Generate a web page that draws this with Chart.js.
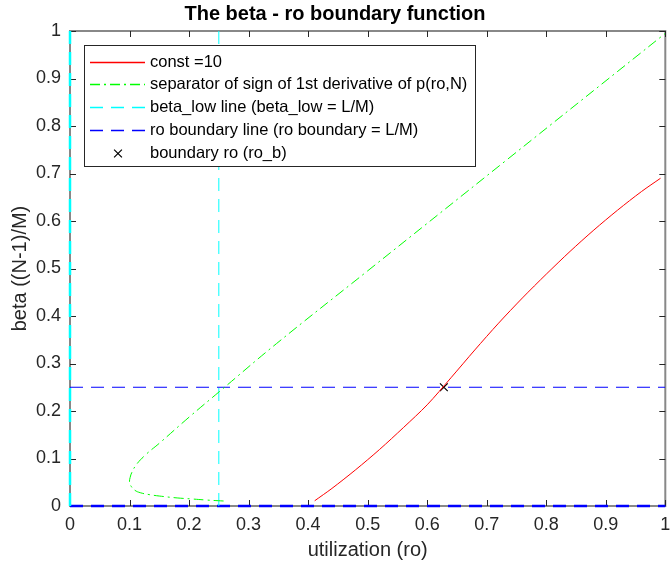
<!DOCTYPE html>
<html>
<head>
<meta charset="utf-8">
<script src="https://cdn.jsdelivr.net/npm/chart.js@4.4.1/dist/chart.umd.min.js"></script>
<style>
html,body{margin:0;padding:0;background:#fff;}
#wrap{width:672px;height:567px;position:relative;}
</style>
</head>
<body>
<div id="wrap"><canvas id="c" width="672" height="567"></canvas></div>
<script>
// ---------- data ----------
const titleText = 'The beta - ro boundary function';
const xLabel = 'utilization (ro)';
const yLabel = 'beta ((N-1)/M)';
const tickValues = [0,0.1,0.2,0.3,0.4,0.5,0.6,0.7,0.8,0.9,1];
const tickLabels = ['0','0.1','0.2','0.3','0.4','0.5','0.6','0.7','0.8','0.9','1'];
const seriesNames = [
  'const =10',
  'separator of sign of 1st derivative of p(ro,N)',
  'beta_low line (beta_low = L/M)',
  'ro boundary line (ro boundary = L/M)',
  'boundary ro (ro_b)'
];
const constX = [0.411,0.44,0.48,0.52,0.56,0.60,0.64,0.68,0.72,0.76,0.80,0.84,0.88,0.92,0.96,0.992];
const constY = [0.011,0.037,0.0765,0.119,0.165,0.213,0.270,0.3285,0.385,0.438,0.488,0.536,0.581,0.623,0.662,0.690];
const sepX = [0.258,0.23,0.206,0.18,0.15,0.133,0.118,0.109,0.103,0.100,0.101,0.104,0.112,0.128,0.15,0.20,0.253,0.347,0.50,0.733,1.0];
const sepY = [0.0105,0.0125,0.0147,0.017,0.021,0.024,0.028,0.033,0.041,0.050,0.060,0.071,0.088,0.109,0.132,0.187,0.243,0.342,0.495,0.728,0.995];
const betaLowX = [0.25,0.25];
const betaLowY = [0,1];
const betaLowEdgeX = [0,0];
const betaLowEdgeY = [0,1];
const roBoundX = [0,1];
const roBoundY = [0.25,0.25];
const roBoundEdgeX = [0,1];
const roBoundEdgeY = [0,0];
const roBX = [0.628];
const roBY = [0.25];

const FONT = '"Liberation Sans", Arial, Helvetica, sans-serif';
const pts = (xs, ys) => xs.map((x, i) => ({x: x, y: ys[i]}));
const lineDs = (label, xs, ys, color, dash, width, tension) => ({
  label: label, data: pts(xs, ys), showLine: true, borderColor: color, backgroundColor: color,
  borderWidth: width, borderDash: dash, pointRadius: 0, pointHoverRadius: 0, fill: false, tension: tension || 0
});

const datasets = [
  lineDs(seriesNames[0], constX, constY, '#ff0000', [], 1, 0.3),
  lineDs(seriesNames[1], sepX, sepY, '#00ff00', [10,4,2,4], 1, 0.4),
  lineDs(seriesNames[2], betaLowX, betaLowY, '#00ffff', [13,8], 1),
  lineDs(seriesNames[3], roBoundX, roBoundY, '#0000ff', [13,8], 1),
  {label: seriesNames[4], data: pts(roBX, roBY), showLine: false, pointStyle: 'crossRot',
   pointRadius: 5.5, pointBorderWidth: 1.2, borderColor: '#000000', backgroundColor: '#000000', borderWidth: 1.2},
  Object.assign(lineDs('', betaLowEdgeX, betaLowEdgeY, '#00ffff', [13,8], 2.5), {clip: false}),
  Object.assign(lineDs('', roBoundEdgeX, roBoundEdgeY, '#0000ff', [13,8], 2.5), {clip: false})
];

// frame + inward ticks (MATLAB style box)
const framePlugin = {
  id: 'frame',
  beforeDatasetsDraw(chart) {
    const {ctx, chartArea: a, scales: {x, y}} = chart;
    ctx.save();
    ctx.strokeStyle = '#262626';
    ctx.lineWidth = 1;
    ctx.beginPath();
    tickValues.forEach(v => {
      const px = Math.round(x.getPixelForValue(v)) + 0.5;
      ctx.moveTo(px, a.bottom); ctx.lineTo(px, a.bottom - 6);
      ctx.moveTo(px, a.top); ctx.lineTo(px, a.top + 6);
      const py = Math.round(y.getPixelForValue(v)) + 0.5;
      ctx.moveTo(a.left, py); ctx.lineTo(a.left + 6, py);
      ctx.moveTo(a.right, py); ctx.lineTo(a.right - 6, py);
    });
    ctx.stroke();
    ctx.strokeStyle = 'rgba(38,38,38,0.55)';
    ctx.lineWidth = 2;
    ctx.strokeRect(a.left, a.top, a.right - a.left, a.bottom - a.top);
    ctx.restore();
  }
};

// legend box in the upper-left corner of the axes
const legendPlugin = {
  id: 'boxLegend',
  afterDatasetsDraw(chart) {
    const {ctx, chartArea: a} = chart;
    const L = a.left + 14, T = a.top + 14, W = 391, H = 121;
    ctx.save();
    ctx.fillStyle = '#ffffff';
    ctx.fillRect(L, T, W, H);
    ctx.strokeStyle = '#262626';
    ctx.lineWidth = 1;
    ctx.strokeRect(L + 0.5, T + 0.5, W, H);
    ctx.font = '16.5px ' + FONT;
    ctx.textBaseline = 'middle';
    ctx.textAlign = 'left';
    for (let i = 0; i < 5; i++) {
      const ds = chart.data.datasets[i];
      const cy = Math.round(T + 16.5 + i * 22.75) + 0.5;
      if (ds.showLine) {
        ctx.strokeStyle = ds.borderColor;
        ctx.lineWidth = 1.4;
        ctx.setLineDash(ds.borderDash || []);
        ctx.beginPath();
        ctx.moveTo(L + 6, cy); ctx.lineTo(L + 61, cy);
        ctx.stroke();
        ctx.setLineDash([]);
      } else {
        ctx.strokeStyle = '#000';
        ctx.lineWidth = 1.2;
        const cx = L + 34, r = 3.9;
        ctx.beginPath();
        ctx.moveTo(cx - r, cy - r); ctx.lineTo(cx + r, cy + r);
        ctx.moveTo(cx - r, cy + r); ctx.lineTo(cx + r, cy - r);
        ctx.stroke();
      }
      ctx.fillStyle = '#000';
      ctx.fillText(seriesNames[i], L + 66, cy);
    }
    ctx.restore();
  }
};

new Chart(document.getElementById('c'), {
  type: 'scatter',
  data: {datasets: datasets},
  options: {
    responsive: false,
    animation: false,
    devicePixelRatio: 1,
    layout: {padding: {left: 0, right: 2, top: 0, bottom: 0}},
    plugins: {
      legend: {display: false},
      tooltip: {enabled: false},
      title: {display: true, text: titleText, color: '#000',
        font: {family: FONT, size: 20, weight: 'bold', lineHeight: 1.2},
        padding: {top: 2, bottom: 5}}
    },
    scales: {
      x: {
        type: 'linear', min: 0, max: 1,
        afterBuildTicks: s => { s.ticks = tickValues.map(v => ({value: v})); },
        ticks: {callback: v => tickLabels[tickValues.indexOf(v)], font: {family: FONT, size: 18},
          color: '#262626', padding: 8, maxRotation: 0, autoSkip: false},
        grid: {display: false, drawTicks: false},
        border: {display: false},
        title: {display: true, text: xLabel, color: '#262626', font: {family: FONT, size: 20, lineHeight: 1.2},
          padding: {top: 0, bottom: 5}},
        afterFit: s => { s.height = 61; s.paddingLeft = 0; s.paddingRight = 0; }
      },
      y: {
        type: 'linear', min: 0, max: 1,
        afterBuildTicks: s => { s.ticks = tickValues.map(v => ({value: v})); },
        ticks: {callback: v => tickLabels[tickValues.indexOf(v)], font: {family: FONT, size: 18},
          color: '#262626', padding: 9, autoSkip: false},
        grid: {display: false, drawTicks: false},
        border: {display: false},
        title: {display: true, text: yLabel, color: '#262626', font: {family: FONT, size: 20, lineHeight: 1.2},
          padding: {top: 8, bottom: 0}},
        afterFit: s => { s.width = 70; s.paddingTop = 0; s.paddingBottom = 0; }
      }
    }
  },
  plugins: [framePlugin, legendPlugin]
});
</script>
</body>
</html>
